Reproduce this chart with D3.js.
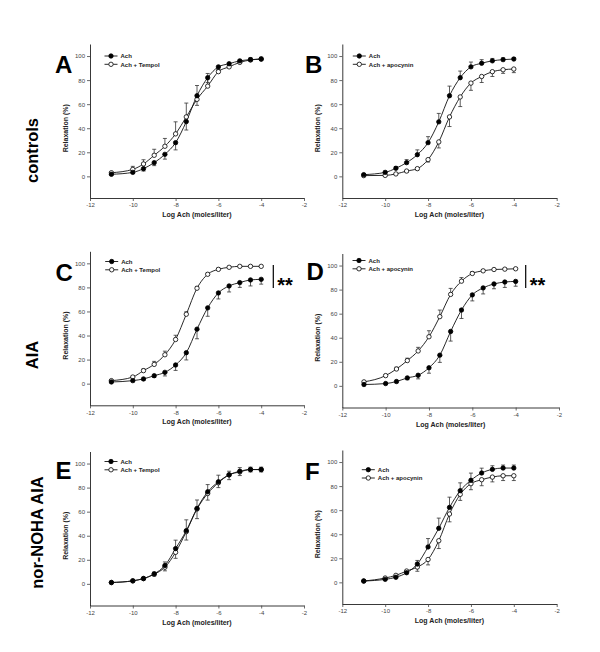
<!DOCTYPE html>
<html><head><meta charset="utf-8">
<script src="https://cdn.jsdelivr.net/npm/d3@7"></script>
<style>body{margin:0;background:#fff}svg{display:block}text{font-family:Arial,"Liberation Sans",sans-serif}</style>
</head><body><svg id="c" width="600" height="652"></svg>
<script>
// ---- data ----
const xDoses = [-11,-10,-9.5,-9,-8.5,-8,-7.5,-7,-6.5,-6,-5.5,-5,-4.5,-4];
const xTicks = [-12,-10,-8,-6,-4,-2];
const yTicks = [0,20,40,60,80,100];
const rowLabels = ["controls","AIA","nor-NOHA AIA"];
const panelLetters = ["A","B","C","D","E","F"];
const seriesNames = ["Ach","Ach + Tempol","Ach + apocynin"];
const xTitle = "Log Ach (moles/liter)";
const yTitle = "Relaxation (%)";

const aAch = [1.7,3.3,6.4,11.4,18.3,28,45.5,67,82,91,93.6,96,97,97.5];
const aAchErr = [0.5,1,2,2.5,4,6,7,8,4,2,2,1.5,1,1];
const aTempol = [3,5.8,10.3,17.5,25,35.3,49.4,64,75,87,91,94.7,96.7,97.5];
const aTempolErr = [0.5,2.5,3.5,5,6.5,10,11.5,11.5,10.5,2,2,2,2,1.5];

const bAch = [1.4,3.3,6.7,11.4,18,28,45.3,67,82,91,94,96,97,97.5];
const bAchErr = [0.5,1,1.5,2.5,4,5,7,8,5.5,4,3,2,1.5,1];
const bApo = [0.6,0.8,2,4.4,6.4,13.9,28.6,49.4,66,77.5,83,87,88.6,89.2];
const bApoErr = [0.5,0.5,0.5,1,1,2,5,8,8,6,5,4,3,3];

const cAch = [1.4,2.5,3.9,6.6,9.4,15.5,25.7,45.3,63,75.4,81.2,84,86.2,86.7];
const cAchErr = [0.5,0.5,1,1.5,3,4.5,6,8,7,5,5,4,5,4];
const cTempol = [2.5,5.5,10.8,16,24,36.7,57.7,79.3,90.9,95,96.7,97.5,97.5,97.5];
const cTempolErr = [0.5,1,1.5,2.5,3,3.5,2,1.5,1,1,0.5,0.5,0.5,0.5];

const dAch = [1.1,1.9,3.6,6.6,8.8,15,25.5,45.2,63,75.6,81.4,84.7,86.3,86.8];
const dAchErr = [0.5,0.5,1,1.5,3,4.5,6,8,7,5,5,4,4.5,4];
const dApo = [3.3,8.5,14,21,29,40.8,57.5,76,87,93.4,95.6,96.7,97,97.3];
const dApoErr = [0.5,1,1.5,2,3,5,5.5,5,3,1.5,1,0.5,0.5,0.5];

const eAch = [1.1,2.5,4.4,8.3,15.2,29.3,44.2,62.7,76.5,84.8,90.6,93.6,95,95];
const eAchErr = [0.3,0.5,1,1.5,3,7,9,7,6,5.5,3,3,2,2];
const eTempol = [1.1,2.5,4.4,8,13.8,26.2,43.4,62.2,75.1,84,90.6,93,95,95];
const eTempolErr = [0.3,0.5,1,1.5,3,5,7,8,5.5,4,4,3,2,2];

const fAch = [1.1,2.5,4.2,8,15.2,29.4,44.9,62.3,76.2,84.8,90.9,93.9,95,95];
const fAchErr = [0.3,0.5,1,1.5,3,7,8.5,8.5,6.5,6,4,3,2.5,2.5];
const fApo = [1.1,3.6,5.8,9.4,12.7,19,34.6,56.8,73.1,82,85.3,87.5,88.6,88.6];
const fApoErr = [0.3,0.5,1,1.5,3.5,4.5,6.5,6.5,5,5,5,4,4,4];

// ---- layout ----
const panels = [
  {letter:0, x0:90, x1:304, yb:198, lx:111, ly:56, lt:[aAch,aAchErr,-1, aTempol,aTempolErr,1], name2:1, ltr:[55,72.5]},
  {letter:1, x0:342.3, x1:556.7, yb:198, lx:359.3, ly:56, lt:[bAch,bAchErr,1, bApo,bApoErr,-1], name2:2, ltr:[305,72.5]},
  {letter:2, x0:90, x1:304, yb:405.3, lx:111.7, ly:261.5, lt:[cAch,cAchErr,-1, cTempol,cTempolErr,1], name2:1, ltr:[55.5,281], sig:[273.3,265,288]},
  {letter:3, x0:342.3, x1:559, yb:407.5, lx:359, ly:260.5, lt:[dAch,dAchErr,-1, dApo,dApoErr,1], name2:2, ltr:[306.5,280], sig:[525.7,265,288]},
  {letter:4, x0:90, x1:304, yb:605.5, lx:111, ly:461.5, lt:[eAch,eAchErr,1, eTempol,eTempolErr,-1], name2:1, ltr:[55.5,479]},
  {letter:5, x0:342.3, x1:556.7, yb:604, lx:368.3, ly:469.7, lt:[fAch,fAchErr,1, fApo,fApoErr,-1], name2:2, ltr:[305,480]}
];

const svg = d3.select("#c");
const yH = 154;
const R = 2.2;

panels.forEach(p => {
  const g = svg.append("g");
  const x = d3.scaleLinear().domain([-12,-2]).range([p.x0, p.x1]);
  const y = d3.scaleLinear().domain([-18,110]).range([p.yb, p.yb - yH]);

  const xa = g.append("g").attr("transform",`translate(0,${p.yb})`)
    .call(d3.axisBottom(x).tickValues(xTicks).tickSize(3).tickPadding(2).tickSizeOuter(0).tickFormat(d3.format("d")));
  const ya = g.append("g").attr("transform",`translate(${p.x0},0)`)
    .call(d3.axisLeft(y).tickValues(yTicks).tickSize(3).tickPadding(2).tickSizeOuter(0));
  [xa,ya].forEach(a => {
    a.select(".domain").attr("stroke","#222").attr("stroke-width",0.9);
    a.selectAll(".tick line").attr("stroke","#444").attr("stroke-width",0.8);
    a.selectAll(".tick text").attr("font-size",6).attr("fill","#444").attr("font-family","Arial, 'Liberation Sans', sans-serif");
  });
  xa.selectAll(".tick text").text(d => d3.format("d")(d).replace("−","-"));

  g.append("text").attr("x",(p.x0+p.x1)/2).attr("y",p.yb+19).attr("text-anchor","middle")
    .attr("font-size",7).attr("font-weight","bold").attr("fill","#222").text(xTitle);
  g.append("text").attr("transform",`translate(${p.x0-22.5},${y(40)}) rotate(-90)`).attr("text-anchor","middle")
    .attr("font-size",7).attr("font-weight","bold").attr("fill","#222").text(yTitle);

  const line = d3.line().x((d,i)=>x(xDoses[i])).y(d=>y(d)).curve(d3.curveMonotoneX);
  const series = [
    {vals:p.lt[0], err:p.lt[1], dir:p.lt[2], fill:"#000"},
    {vals:p.lt[3], err:p.lt[4], dir:p.lt[5], fill:"#fff"}
  ];
  // error bars
  series.forEach(s => {
    s.vals.forEach((v,i) => {
      const xx = x(xDoses[i]), y0 = y(v), y1 = y(v + s.dir*s.err[i]);
      g.append("line").attr("x1",xx).attr("x2",xx).attr("y1",y0).attr("y2",y1).attr("stroke","#333").attr("stroke-width",0.8);
      g.append("line").attr("x1",xx-2).attr("x2",xx+2).attr("y1",y1).attr("y2",y1).attr("stroke","#333").attr("stroke-width",0.8);
    });
  });
  series.slice().reverse().forEach(s => {
    g.append("path").datum(s.vals).attr("d",line).attr("fill","none").attr("stroke","#111").attr("stroke-width",0.9);
  });
  [series[1], series[0]].forEach(s => {
    g.selectAll(null).data(s.vals).enter().append("circle")
      .attr("cx",(d,i)=>x(xDoses[i])).attr("cy",d=>y(d)).attr("r",R)
      .attr("fill",s.fill).attr("stroke","#000").attr("stroke-width",0.8);
  });

  // legend
  [[seriesNames[0],"#000"],[seriesNames[p.name2],"#fff"]].forEach((l,k) => {
    const ly = p.ly + k*8.3;
    g.append("line").attr("x1",p.lx-6.5).attr("x2",p.lx+6.5).attr("y1",ly).attr("y2",ly).attr("stroke","#111").attr("stroke-width",0.9);
    g.append("circle").attr("cx",p.lx).attr("cy",ly).attr("r",R).attr("fill",l[1]).attr("stroke","#000").attr("stroke-width",0.8);
    g.append("text").attr("x",p.lx+9.5).attr("y",ly+2.2).attr("font-size",6).attr("font-weight","bold").attr("fill","#222").text(l[0]);
  });

  // panel letter
  svg.append("text").attr("x",p.ltr[0]).attr("y",p.ltr[1]).attr("font-size",24).attr("font-weight","bold").attr("fill","#000").text(panelLetters[p.letter]);

  if (p.sig) {
    g.append("line").attr("x1",p.sig[0]).attr("x2",p.sig[0]).attr("y1",p.sig[1]).attr("y2",p.sig[2]).attr("stroke","#000").attr("stroke-width",1.2);
    g.append("text").attr("x",p.sig[0]+4).attr("y",p.sig[2]+3.5).attr("font-size",20).attr("font-weight","bold").attr("fill","#000").text("**");
  }
});

// row labels
const rowPos = [[37.5,150.5],[38,355],[43,532.5]];
rowLabels.forEach((t,i) => {
  svg.append("text").attr("transform",`translate(${rowPos[i][0]},${rowPos[i][1]}) rotate(-90)`)
    .attr("text-anchor","middle").attr("font-size",16.5).attr("font-weight","bold").attr("fill","#000").text(t);
});
</script></body></html>
